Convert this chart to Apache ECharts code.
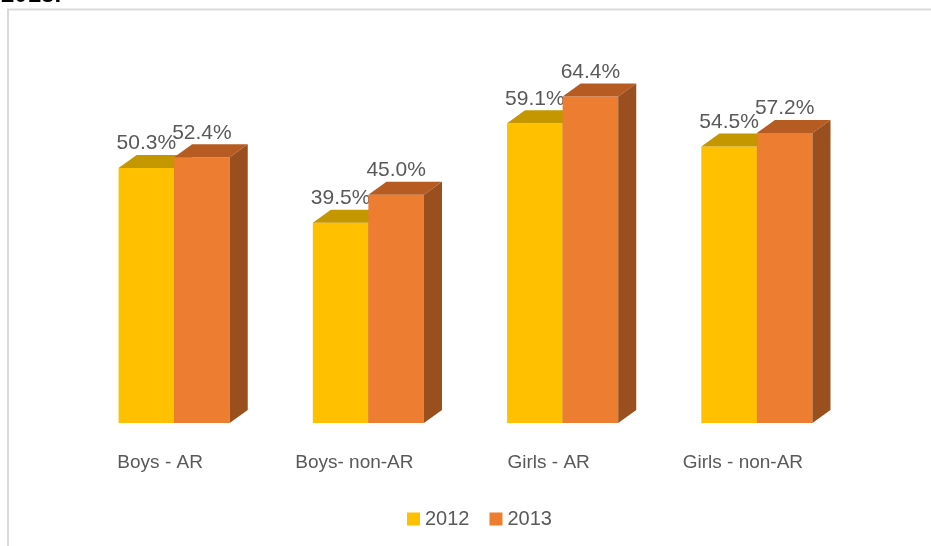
<!DOCTYPE html>
<html>
<head>
<meta charset="utf-8">
<script src="https://cdn.jsdelivr.net/npm/echarts@6/dist/echarts.min.js"></script>
<style>
html,body{margin:0;padding:0;background:#fff;}
#main{width:931px;height:546px;}
</style>
</head>
<body>
<div id="main"></div>
<script>
const categories = ['Boys - AR', 'Boys- non-AR', 'Girls - AR', 'Girls - non-AR'];
const seriesNames = ['2012', '2013'];
const values2012 = [50.3, 39.5, 59.1, 54.5];
const values2013 = [52.4, 45.0, 64.4, 57.2];

const faceColors = [
  {front: '#FFC000', top: '#C49600', side: '#B08600'},
  {front: '#ED7D31', top: '#B65C22', side: '#9A4F1E'}
];

function render3d(params, api) {
  var idx = api.value(0), v = api.value(1);
  var base = api.coord([idx, 0]);
  var top = api.coord([idx, v]);
  var band = api.size([1, 0])[0];
  var w = band * 0.286;
  var dx = w * 0.325, dy = 13;
  var x0 = params.seriesIndex === 0 ? base[0] - w : base[0];
  var c = faceColors[params.seriesIndex];
  return {
    type: 'group',
    children: [
      {type: 'rect', shape: {x: x0, y: top[1], width: w, height: base[1] - top[1]}, style: {fill: c.front}},
      {type: 'polygon', shape: {points: [[x0, top[1]], [x0 + w, top[1]], [x0 + w + dx, top[1] - dy], [x0 + dx, top[1] - dy]]}, style: {fill: c.top}},
      {type: 'polygon', shape: {points: [[x0 + w, top[1]], [x0 + w + dx, top[1] - dy], [x0 + w + dx, base[1] - dy], [x0 + w, base[1]]]}, style: {fill: c.side}},
      {type: 'text', style: {
        x: x0 + w / 2, y: top[1] - dy - 1,
        text: v.toFixed(1) + '%',
        align: 'center', verticalAlign: 'bottom',
        fill: '#595959', font: '21px "Liberation Sans Narrow", "Liberation Sans", sans-serif'
      }}
    ]
  };
}

var chart = echarts.init(document.getElementById('main'));
chart.setOption({
  animation: false,
  backgroundColor: '#fff',
  graphic: [
    {type: 'rect', shape: {x: 8, y: 9.5, width: 1000, height: 1000}, style: {fill: 'none', stroke: '#d9d9d9', lineWidth: 2}, silent: true},
    {type: 'text', left: 1, top: -17, style: {text: '2013.', fill: '#000', font: 'bold 24px "Liberation Sans", Arial, sans-serif'}}
  ],
  legend: {
    bottom: 12,
    left: 402,
    icon: 'rect',
    itemWidth: 13,
    itemHeight: 13,
    itemGap: 20,
    textStyle: {color: '#595959', fontSize: 20, fontFamily: 'Liberation Sans'},
    data: seriesNames
  },
  grid: {left: 77, right: 77, top: 68, bottom: 123},
  xAxis: {
    type: 'category',
    data: categories,
    axisLine: {show: false},
    axisTick: {show: false},
    axisLabel: {color: '#595959', fontSize: 19, fontFamily: 'Liberation Sans', margin: 30, padding: [0, 28, 0, 0]}
  },
  yAxis: {type: 'value', min: 0, max: 70, show: false},
  series: [
    {name: seriesNames[0], type: 'custom', renderItem: render3d, itemStyle: {color: faceColors[0].front},
     data: values2012.map(function (v, i) { return [i, v]; })},
    {name: seriesNames[1], type: 'custom', renderItem: render3d, itemStyle: {color: faceColors[1].front},
     data: values2013.map(function (v, i) { return [i, v]; })}
  ]
});
</script>
</body>
</html>
